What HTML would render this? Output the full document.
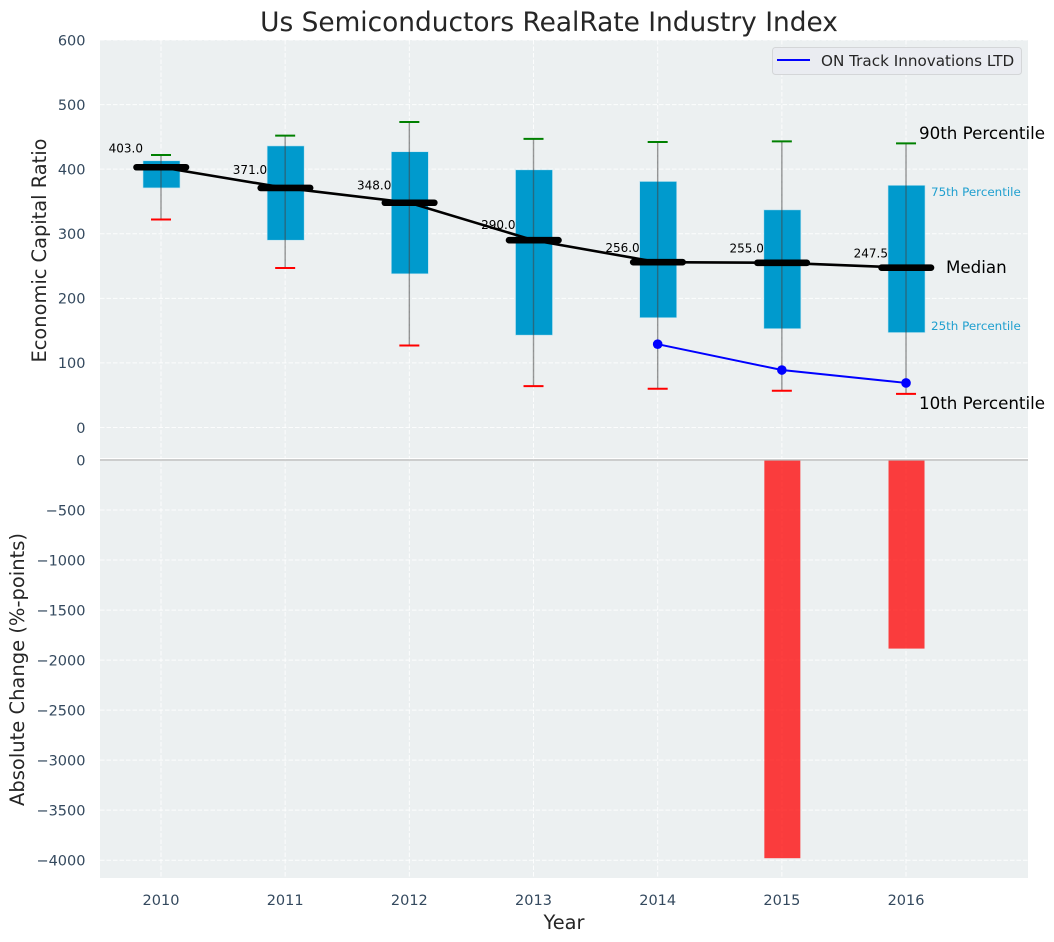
<!DOCTYPE html>
<html lang="en">
<head>
<meta charset="utf-8">
<title>Us Semiconductors RealRate Industry Index</title>
<style>
html,body{margin:0;padding:0;background:#fff;}
svg{display:block;font-family:"DejaVu Sans","Liberation Sans",sans-serif;}
</style>
</head>
<body>
<svg id="chart" xmlns="http://www.w3.org/2000/svg" width="1054" height="942" viewBox="0 0 1054 942">
  <rect x="100" y="40" width="928" height="838" fill="#ecf0f1"/>
  <g id="grid"></g>
  <g id="bars"></g>
  <g id="boxes"></g>
  <g id="lines"></g>
  <g id="labels"></g>
  <g id="ticks"></g>
  <text x="549" y="31" text-anchor="middle" font-size="26.4" fill="#262626">Us Semiconductors RealRate Industry Index</text>
  <text transform="translate(46,250.5) rotate(-90)" text-anchor="middle" font-size="19.4" fill="#262626">Economic Capital Ratio</text>
  <text transform="translate(24,669.5) rotate(-90)" text-anchor="middle" font-size="19.5" fill="#262626">Absolute Change (%-points)</text>
  <text x="564" y="929" text-anchor="middle" font-size="19.4" fill="#262626">Year</text>
  <g>
    <rect x="772.5" y="47.5" width="249" height="27" rx="3" fill="#eaecf1" stroke="#d4d6d8" stroke-width="1"/>
    <line x1="777" y1="60" x2="810" y2="60" stroke="#0000ff" stroke-width="2"/>
    <text x="821" y="66" font-size="15.2" fill="#262626">ON Track Innovations LTD</text>
  </g>
</svg>
<script>
const years = [2010, 2011, 2012, 2013, 2014, 2015, 2016];
const p90 = [422, 452, 473, 447, 442, 443, 440];
const p75 = [413, 436, 427, 399, 381, 337, 375];
const medians = [403, 371, 348, 290, 256, 255, 247.5];
const p25 = [371, 290, 238, 143, 170, 153, 147];
const p10 = [322, 247, 127, 64, 60, 57, 52];
const companyYears = [2014, 2015, 2016];
const companyValues = [129, 89, 69];
const changeYears = [2015, 2016];
const changeValues = [-3980, -1885];
const topTicks = [0, 100, 200, 300, 400, 500, 600];
const bottomTicks = [0, -500, -1000, -1500, -2000, -2500, -3000, -3500, -4000];

const NS = 'http://www.w3.org/2000/svg';
function xScale(year) { return 161 + (year - 2010) * 124.17; }
function yTop(v) { return 427.5 - v * 0.6458; }
function yBottom(v) { return 460 - v * 0.10005; }
function make(tag, parent) {
  const el = document.createElementNS(NS, tag);
  document.getElementById(parent).appendChild(el);
  return el;
}
function setAll(el, props) {
  for (const k in props) el.setAttribute(k, props[k]);
}
const grid = 'rgba(255,255,255,0.85)';
const dash = '4.5 2';

years.forEach(function (yr) {
  const g = make('line', 'grid');
  
  
  setAll(g, { x1: xScale(yr), x2: xScale(yr), y1: 40, y2: 878, stroke: grid, 'stroke-width': 1, 'stroke-dasharray': dash });
  const t = make('text', 'ticks');
  
  
  setAll(t, { x: xScale(yr), y: 905, 'text-anchor': 'middle', 'font-size': 14.5, fill: '#34495e' });
  t.textContent = String(yr);
});
topTicks.forEach(function (v) {
  const g = make('line', 'grid');
  
  
  setAll(g, { x1: 100, x2: 1028, y1: yTop(v), y2: yTop(v), stroke: grid, 'stroke-width': 1, 'stroke-dasharray': dash });
  const t = make('text', 'ticks');
  
  
  setAll(t, { x: 85.5, y: yTop(v) + 5.3, 'text-anchor': 'end', 'font-size': 14.5, fill: '#34495e' });
  t.textContent = String(v);
});
bottomTicks.forEach(function (v) {
  const g = make('line', 'grid');
  
  
  setAll(g, { x1: 100, x2: 1028, y1: yBottom(v), y2: yBottom(v), stroke: grid, 'stroke-width': 1, 'stroke-dasharray': dash });
  const t = make('text', 'ticks');
  
  
  setAll(t, { x: 85.5, y: yBottom(v) + 5.3, 'text-anchor': 'end', 'font-size': 14.5, fill: '#34495e' });
  t.textContent = String(v).replace('-', '\u2212');
});

const gap = make('rect', 'grid');


setAll(gap, { x: 100, y: 458, width: 928, height: 1, fill: '#ffffff' });

changeValues.forEach(function (v, i) {
  const b = make('rect', 'bars');
  
  
  const top = yBottom(0), bot = yBottom(v);
  setAll(b, { x: xScale(changeYears[i]) - 17.5, y: top, width: 36, height: bot - top, fill: '#ff0000', 'fill-opacity': 0.75 });
});
const zero = make('line', 'bars');


setAll(zero, { x1: 100, x2: 1028, y1: yBottom(0), y2: yBottom(0), stroke: '#b8b8b8', 'stroke-width': 1.2 });

years.forEach(function (yr, i) {
  const x = xScale(yr);
  const box = make('rect', 'boxes');
  
  
  setAll(box, { x: x - 18, y: yTop(p75[i]), width: 37, height: yTop(p25[i]) - yTop(p75[i]), fill: '#009acd', stroke: '#bfe3f0', 'stroke-width': 0.6 });
  const w = make('line', 'boxes');
  
  
  setAll(w, { x1: x, x2: x, y1: yTop(p90[i]), y2: yTop(p10[i]), stroke: '#444444', 'stroke-opacity': 0.55, 'stroke-width': 1.4 });
  const hi = make('line', 'boxes');
  
  
  setAll(hi, { x1: x - 10, x2: x + 10, y1: yTop(p90[i]), y2: yTop(p90[i]), stroke: '#008000', 'stroke-width': 2 });
  const lo = make('line', 'boxes');
  
  
  setAll(lo, { x1: x - 10, x2: x + 10, y1: yTop(p10[i]), y2: yTop(p10[i]), stroke: '#ff0000', 'stroke-width': 2 });
});

const medianLine = make('polyline', 'lines');


setAll(medianLine, { points: years.map(function (yr, i) { return xScale(yr) + ',' + yTop(medians[i]); }).join(' '), fill: 'none', stroke: '#000000', 'stroke-width': 2.6 });

years.forEach(function (yr, i) {
  const m = make('line', 'lines');
  
  
  setAll(m, { x1: xScale(yr) - 24.5, x2: xScale(yr) + 25, y1: yTop(medians[i]), y2: yTop(medians[i]), stroke: '#000000', 'stroke-width': 6.6, 'stroke-linecap': 'round' });
  const t = make('text', 'labels');
  
  
  setAll(t, { x: xScale(yr) - 18, y: yTop(medians[i] * 1.05 + 10) + 4.5, 'text-anchor': 'end', 'font-size': 12, fill: '#000000' });
  t.textContent = medians[i].toFixed(1);
});

const company = make('polyline', 'lines');


setAll(company, { points: companyYears.map(function (yr, i) { return xScale(yr) + ',' + yTop(companyValues[i]); }).join(' '), fill: 'none', stroke: '#0000ff', 'stroke-width': 2 });
companyYears.forEach(function (yr, i) {
  const c = make('circle', 'lines');
  
  
  setAll(c, { cx: xScale(yr), cy: yTop(companyValues[i]), r: 4.8, fill: '#0000ff' });
});

const last = years.length - 1;
const lastX = xScale(years[last]);
const a90 = make('text', 'labels');


setAll(a90, { x: lastX + 13, y: yTop(p90[last]) - 4.5, 'font-size': 16.7, fill: '#000000' });
a90.textContent = '90th Percentile';
const a10 = make('text', 'labels');


setAll(a10, { x: lastX + 13, y: yTop(p10[last]) + 15, 'font-size': 16.7, fill: '#000000' });
a10.textContent = '10th Percentile';
const a75 = make('text', 'labels');


setAll(a75, { x: lastX + 25, y: yTop(p75[last]) + 10.8, 'font-size': 11.9, fill: '#1f9fcf' });
a75.textContent = '75th Percentile';
const a25 = make('text', 'labels');


setAll(a25, { x: lastX + 25, y: yTop(p25[last]) - 2.5, 'font-size': 11.9, fill: '#1f9fcf' });
a25.textContent = '25th Percentile';
const aMed = make('text', 'labels');


setAll(aMed, { x: lastX + 40, y: yTop(medians[last]) + 5.5, 'font-size': 16.7, fill: '#000000' });
aMed.textContent = 'Median';
</script>
</body>
</html>
